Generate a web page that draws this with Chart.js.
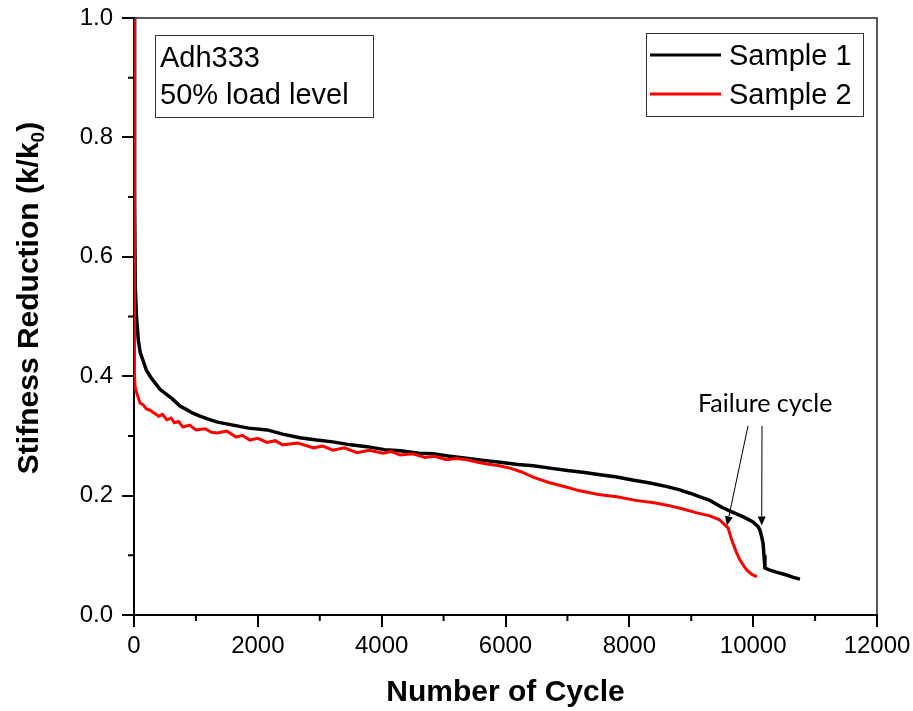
<!DOCTYPE html>
<html>
<head>
<meta charset="utf-8">
<script src="https://cdn.jsdelivr.net/npm/chart.js@4.4.1/dist/chart.umd.min.js"></script>
<style>
  html, body { margin: 0; padding: 0; background: #fff; }
  #wrap { width: 913px; height: 711px; }
</style>
</head>
<body>
<div id="wrap"><canvas id="c" width="913" height="711"></canvas></div>
<script>
// Stiffness reduction vs. number of cycles, Adh333 at 50% load level
const seriesNames = ['Sample 1', 'Sample 2'];

const sample1Cycles = [0, 10, 20, 40, 70, 100, 150, 200, 260, 330, 420, 520, 620, 743, 850, 950, 1066, 1200, 1350, 1600, 1850, 2150, 2400, 2680, 2950, 3210, 3500, 3760, 4050, 4300, 4600, 4830, 5100, 5400, 5650, 5911, 6200, 6450, 6719, 7000, 7250, 7526, 7800, 8050, 8334, 8608, 8800, 8980, 9141, 9300, 9500, 9674, 9850, 9997, 10080, 10110, 10140, 10160, 10175, 10190, 10270, 10400, 10540, 10650, 10756];
const sample1Stiffness = [1.0, 0.70, 0.55, 0.50, 0.46, 0.44, 0.425, 0.41, 0.40, 0.39, 0.378, 0.37, 0.362, 0.35, 0.344, 0.338, 0.333, 0.328, 0.323, 0.318, 0.313, 0.310, 0.303, 0.297, 0.293, 0.290, 0.285, 0.282, 0.277, 0.275, 0.271, 0.270, 0.266, 0.262, 0.259, 0.256, 0.252, 0.250, 0.246, 0.242, 0.239, 0.235, 0.231, 0.226, 0.221, 0.215, 0.210, 0.204, 0.198, 0.192, 0.180, 0.172, 0.164, 0.156, 0.148, 0.142, 0.130, 0.120, 0.100, 0.079, 0.075, 0.071, 0.067, 0.063, 0.060];

const sample2Cycles = [0, 5, 10, 20, 50, 97, 150, 200, 258, 330, 400, 460, 530, 600, 650, 720, 790, 900, 1000, 1150, 1250, 1340, 1500, 1650, 1750, 1870, 2000, 2150, 2280, 2400, 2650, 2900, 3050, 3210, 3400, 3600, 3800, 4020, 4150, 4296, 4500, 4700, 4850, 5050, 5200, 5378, 5550, 5700, 5900, 6073, 6250, 6444, 6700, 6993, 7200, 7500, 7800, 8100, 8400, 8608, 8850, 9093, 9300, 9450, 9513, 9594, 9640, 9674, 9730, 9787, 9850, 9900, 9980, 10060];
const sample2Stiffness = [1.0, 0.60, 0.40, 0.38, 0.37, 0.355, 0.352, 0.345, 0.343, 0.338, 0.333, 0.336, 0.327, 0.330, 0.322, 0.324, 0.315, 0.318, 0.310, 0.312, 0.306, 0.305, 0.308, 0.298, 0.301, 0.293, 0.296, 0.289, 0.292, 0.285, 0.288, 0.280, 0.283, 0.276, 0.280, 0.272, 0.276, 0.271, 0.274, 0.268, 0.270, 0.264, 0.266, 0.260, 0.262, 0.260, 0.256, 0.253, 0.250, 0.246, 0.240, 0.231, 0.222, 0.214, 0.208, 0.202, 0.198, 0.192, 0.188, 0.184, 0.178, 0.171, 0.166, 0.160, 0.154, 0.146, 0.130, 0.120, 0.105, 0.092, 0.082, 0.075, 0.068, 0.064];

const xTicks = [0, 2000, 4000, 6000, 8000, 10000, 12000];
const yTicks = [0.0, 0.2, 0.4, 0.6, 0.8, 1.0];

const infoLines = ['Adh333', '50% load level'];
const noteText = 'Failure cycle';
// arrow tips (cycle, k/k0) for the failure points of Sample 2 and Sample 1
const failureTips = [[9577, 0.150], [10138, 0.150]];

const FONT = "'Liberation Sans', Arial, sans-serif";

const toPoints = (xs, ys) => xs.map((x, i) => ({ x, y: ys[i] }));

const decorations = {
  id: 'decorations',
  afterDraw(chart) {
    const { ctx, chartArea: a, scales: { x, y } } = chart;
    ctx.save();

    // frame top and right
    ctx.strokeStyle = '#222';
    ctx.lineWidth = 1.5;
    ctx.beginPath();
    ctx.moveTo(a.left, a.top);
    ctx.lineTo(a.right, a.top);
    ctx.lineTo(a.right, a.bottom);
    ctx.stroke();

    // minor ticks
    ctx.strokeStyle = '#000';
    ctx.lineWidth = 2;
    ctx.beginPath();
    for (let v = 1000; v < 12000; v += 2000) {
      const px = x.getPixelForValue(v);
      ctx.moveTo(px, a.bottom); ctx.lineTo(px, a.bottom + 6);
    }
    for (let v = 0.1; v < 1.0; v += 0.2) {
      const py = y.getPixelForValue(v);
      ctx.moveTo(a.left, py); ctx.lineTo(a.left - 6, py);
    }
    ctx.stroke();

    // y axis title with subscript
    ctx.fillStyle = '#000';
    ctx.save();
    ctx.translate(27, 298);
    ctx.rotate(-Math.PI / 2);
    const main = 'Stifness Reduction (k/k';
    ctx.font = 'bold 30px ' + FONT;
    const w1 = ctx.measureText(main).width;
    const w3 = ctx.measureText(')').width;
    ctx.font = 'bold 19px ' + FONT;
    const w2 = ctx.measureText('0').width;
    let sx = -(w1 + w2 + w3) / 2;
    ctx.textBaseline = 'alphabetic';
    ctx.textAlign = 'left';
    ctx.font = 'bold 30px ' + FONT;
    ctx.fillText(main, sx, 11);
    ctx.font = 'bold 19px ' + FONT;
    ctx.fillText('0', sx + w1, 17);
    ctx.font = 'bold 30px ' + FONT;
    ctx.fillText(')', sx + w1 + w2, 11);
    ctx.restore();

    // x axis title
    ctx.font = 'bold 30px ' + FONT;
    ctx.textAlign = 'center';
    ctx.textBaseline = 'alphabetic';
    ctx.fillText('Number of Cycle', (a.left + a.right) / 2, 701);

    // info box
    ctx.strokeStyle = '#333';
    ctx.lineWidth = 1;
    ctx.strokeRect(155.5, 35.5, 218, 82);
    ctx.font = '29px ' + FONT;
    ctx.textAlign = 'left';
    ctx.fillText(infoLines[0], 160, 67);
    ctx.fillText(infoLines[1], 160, 104);

    // legend
    ctx.strokeRect(646.5, 33.5, 217, 83);
    chart.data.datasets.forEach((ds, i) => {
      const ly = 55 + i * 39;
      ctx.strokeStyle = ds.borderColor;
      ctx.lineWidth = 3;
      ctx.beginPath();
      ctx.moveTo(650, ly); ctx.lineTo(721, ly);
      ctx.stroke();
      ctx.fillStyle = '#000';
      ctx.fillText(ds.label, 729, ly + 10);
    });

    // failure note and arrows
    ctx.font = '25px Lato, ' + FONT;
    ctx.textAlign = 'left';
    ctx.fillText(noteText, 698, 412);
    const starts = [[748, 426], [762, 426]];
    failureTips.forEach((t, i) => {
      const tx = x.getPixelForValue(t[0]);
      const ty = y.getPixelForValue(t[1]);
      const [sx0, sy0] = starts[i];
      const ang = Math.atan2(ty - sy0, tx - sx0);
      const hl = 9, hw = 4;
      const bx = tx - hl * Math.cos(ang), by = ty - hl * Math.sin(ang);
      ctx.strokeStyle = '#000';
      ctx.lineWidth = 1;
      ctx.beginPath();
      ctx.moveTo(sx0, sy0); ctx.lineTo(bx, by);
      ctx.stroke();
      ctx.beginPath();
      ctx.moveTo(tx, ty);
      ctx.lineTo(bx + hw * Math.sin(ang), by - hw * Math.cos(ang));
      ctx.lineTo(bx - hw * Math.sin(ang), by + hw * Math.cos(ang));
      ctx.closePath();
      ctx.fillStyle = '#000';
      ctx.fill();
    });

    ctx.restore();
  }
};

new Chart(document.getElementById('c'), {
  type: 'line',
  data: {
    datasets: [
      { label: seriesNames[0], data: toPoints(sample1Cycles, sample1Stiffness), borderColor: '#000000', borderWidth: 3.5, pointRadius: 0, tension: 0, order: 1 },
      { label: seriesNames[1], data: toPoints(sample2Cycles, sample2Stiffness), borderColor: '#ff0000', borderWidth: 3, pointRadius: 0, tension: 0, order: 0 }
    ]
  },
  options: {
    responsive: false,
    animation: false,
    layout: { padding: { top: 18, right: 36, left: 0, bottom: 0 } },
    plugins: { legend: { display: false }, tooltip: { enabled: false } },
    scales: {
      x: {
        type: 'linear',
        min: 0, max: 12000,
        afterBuildTicks: s => { s.ticks = xTicks.map(v => ({ value: v })); },
        afterFit: s => { s.height = 96; s.paddingLeft = 0; s.paddingRight = 0; },
        ticks: { font: { family: FONT, size: 24 }, color: '#000', padding: 5, maxRotation: 0, callback: v => String(v) },
        grid: { drawOnChartArea: false, tickLength: 12, color: '#000', lineWidth: 2 },
        border: { display: true, color: '#000', width: 2 }
      },
      y: {
        min: 0, max: 1,
        afterBuildTicks: s => { s.ticks = yTicks.map(v => ({ value: v })); },
        afterFit: s => { s.width = 134; s.paddingTop = 0; s.paddingBottom = 0; },
        ticks: { font: { family: FONT, size: 24 }, color: '#000', padding: 9, callback: v => Number(v).toFixed(1) },
        grid: { drawOnChartArea: false, tickLength: 12, color: '#000', lineWidth: 2 },
        border: { display: true, color: '#000', width: 2 }
      }
    }
  },
  plugins: [decorations]
});
</script>
</body>
</html>
